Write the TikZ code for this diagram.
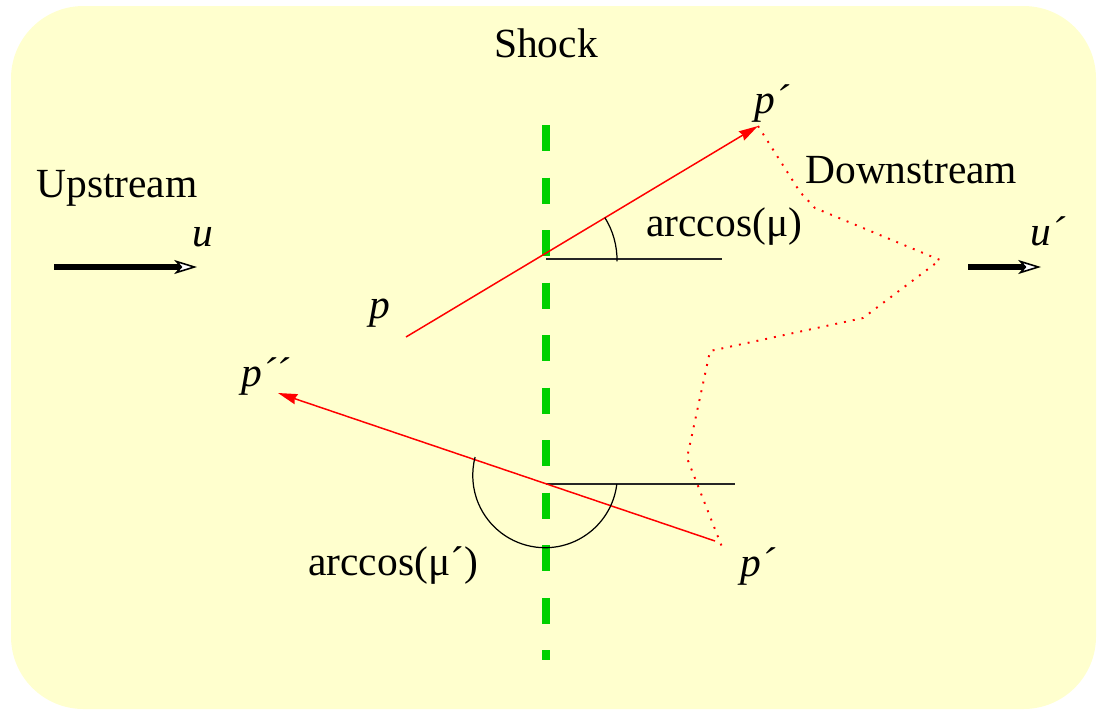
\documentclass[tikz,border=0pt]{standalone}
\usepackage{fontspec}
\setmainfont{Liberation Serif}
\usetikzlibrary{arrows.meta}
\definecolor{bgyellow}{RGB}{255,255,206}
\definecolor{shockgreen}{RGB}{0,208,0}
\begin{document}
\begin{tikzpicture}[x=0.02cm,y=-0.02cm,
  lbl/.style={font=\fontsize{23.6}{28}\selectfont, inner sep=0pt, anchor=base west},
  ilbl/.style={lbl, font=\fontsize{23.6}{28}\selectfont\itshape},
  shockline/.style={draw=shockgreen, line width=5.1pt, dash pattern=on 14.8pt off 15.1pt},
  refline/.style={draw=black!85, line width=0.9pt},
  anglearc/.style={draw=black, line width=0.7pt},
  momentum/.style={draw=red, line width=0.85pt, -{Stealth[length=11pt,width=6pt,inset=1pt]}},
  trajectory/.style={draw=red, line width=1.1pt, dash pattern=on 1.1pt off 4pt},
  flow/.style={draw=black, line width=3.4pt, -{Stealth[length=13pt,width=8pt,inset=3.5pt,fill=white,line width=0.9pt]}}]
\useasboundingbox (0,0) rectangle (1101,711);
\fill[bgyellow, rounded corners=1.45cm] (11,6) rectangle (1096,709);

% shock
\coordinate (shockTop) at (546,125);
\coordinate (shockBot) at (546,660);
\draw[shockline] (shockTop) -- (shockBot);
\node[lbl, anchor=base] (shock) at (546,57) {Shock};

% upstream / downstream
\node[lbl] (up) at (36,197) {Upstream};
\node[lbl] (down) at (805,183) {Downstream};
\coordinate (uS) at (54,267);
\coordinate (uE) at (197,267);
\draw[flow] (uS) -- (uE);
\node[ilbl] (ulab) at (192,246) {u};
\coordinate (u2S) at (968,267);
\coordinate (u2E) at (1041,267);
\draw[flow] (u2S) -- (u2E);
\node[ilbl] (u2lab) at (1030,245) {u´};

% upper crossing
\coordinate (c1) at (546,259);
\coordinate (h1) at (722,259);
\draw[refline] (c1) -- (h1);
\coordinate (pStart) at (406,337);
\coordinate (pTip) at (758,126);
\draw[momentum] (pStart) -- (pTip);
\coordinate (a1s) at (617,261.4);
\draw[anglearc] (a1s) arc[start angle=1, end angle=-32, radius=80];
\node[lbl] (mu1) at (646,236) {arccos(μ)};
\node[ilbl] (plab) at (369,318) {p};
\node[ilbl] (pplab) at (754,113) {p´};

% lower crossing
\coordinate (c2) at (546,484);
\coordinate (h2) at (735,484);
\draw[refline] (c2) -- (h2);
\coordinate (qStart) at (715,541);
\coordinate (qTip) at (278,393);
\draw[momentum] (qStart) -- (qTip);
\coordinate (a2s) at (616.8,484.2);
\draw[anglearc] (a2s) arc[start angle=7, end angle=194.7, radius=72.3];
\node[lbl] (mu2) at (308,575) {arccos(μ´)};
\node[ilbl] (p2lab) at (740,576) {p´};
\node[ilbl] (p3lab) at (241,386) {p´´};

% random walk downstream
\coordinate (w1) at (800,192);
\coordinate (w2) at (815,208);
\coordinate (w3) at (940,260);
\coordinate (w4) at (863,318);
\coordinate (w5) at (710,351);
\coordinate (w6) at (687,458);
\coordinate (wEnd) at (722,547);
\draw[trajectory] (pTip) -- (w1) -- (w2) -- (w3) -- (w4) -- (w5) -- (w6) -- (wEnd);
\end{tikzpicture}
\end{document}
